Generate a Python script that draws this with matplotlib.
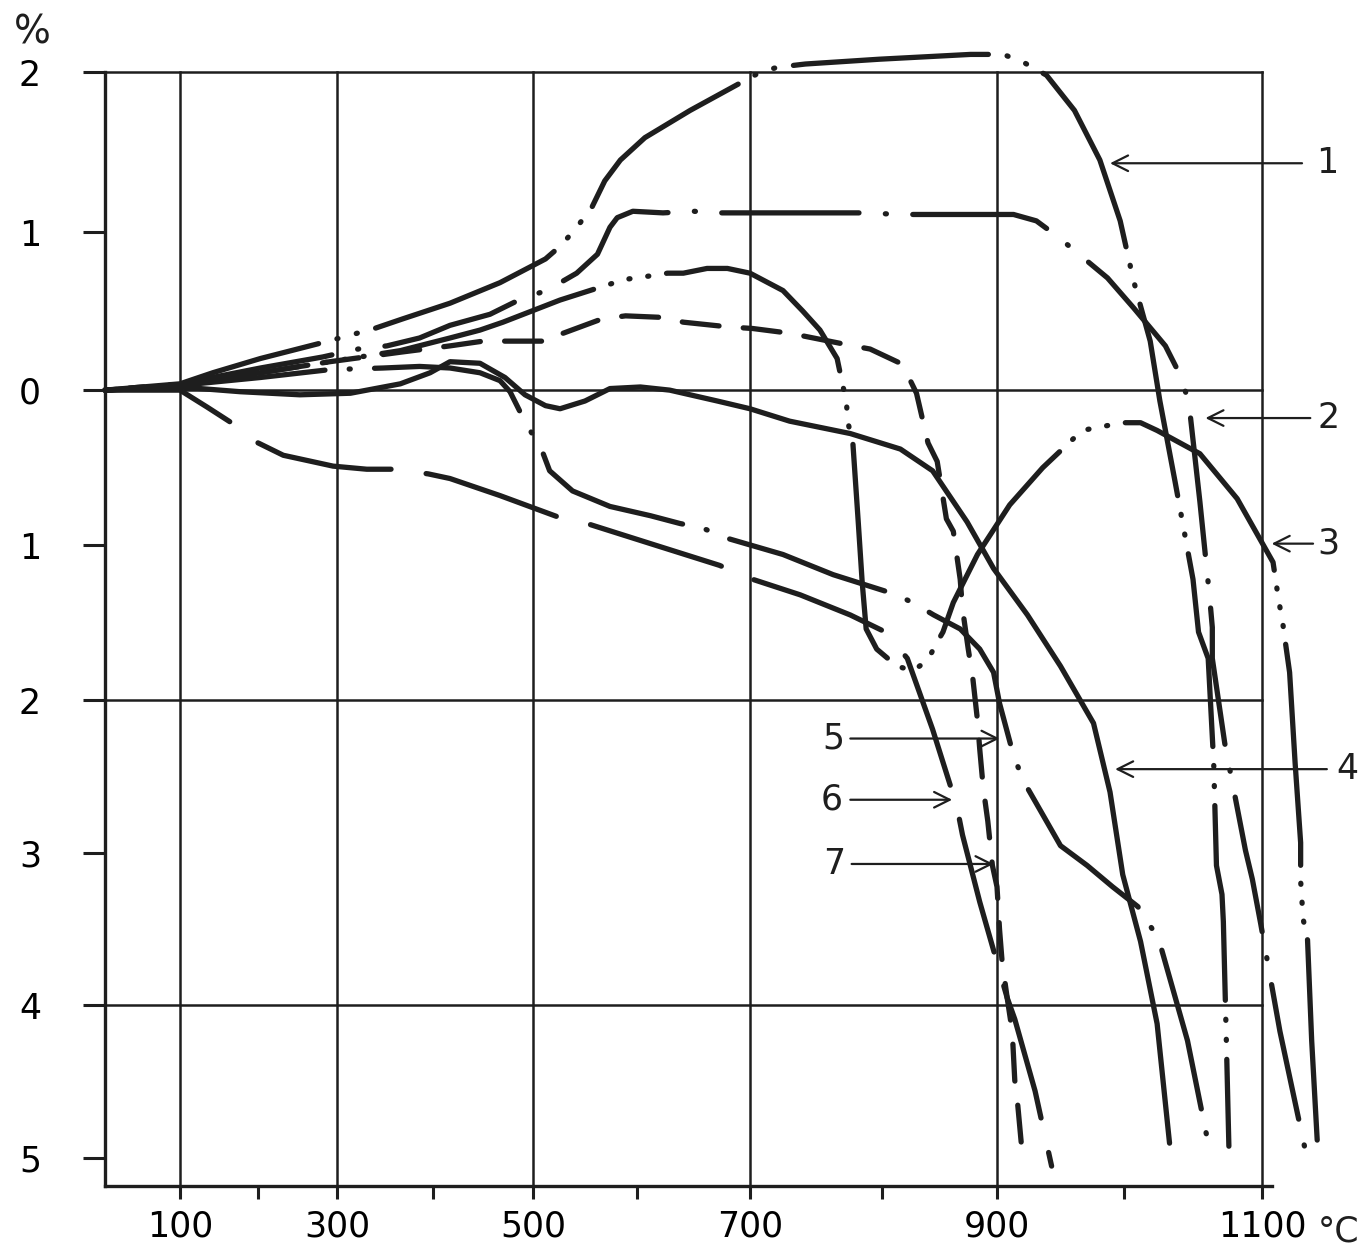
import numpy as np
import matplotlib
matplotlib.use('Agg')
import matplotlib.pyplot as plt

INK = '#1e1e1e'
LW = 3.8

# the drawn temperature / expansion axes are not evenly spaced: scale
TEMP_TICKS = [-1000, 0, 100, 200, 300, 400, 500, 600, 700, 800, 900, 1000, 1100, 2000]
TEMP_PX = [-645, 105, 180, 258, 337, 433, 533, 637, 750, 882, 997, 1124, 1262, 2504]
EXP_TICKS = [-10, -5, -4, -3, -2, -1, 0, 1, 2, 5]
EXP_PX = [1923, 1158, 1005, 853, 700, 545, 390, 232, 72, -408]

# curves: temperature (deg C) and length change (%)
t1 = [0, 100, 142, 203, 289, 339, 368, 417, 467, 512, 526, 541, 557, 569, 584, 607, 647, 691, 708, 721,
      742, 798, 877, 905, 921, 939, 961, 981, 997, 1007, 1019, 1026, 1037, 1050, 1054, 1061, 1065, 1067,
      1071, 1072, 1074, 1076]
e1 = [0, 0.04, 0.11, 0.20, 0.31, 0.39, 0.45, 0.55, 0.68, 0.83, 0.91, 1.02, 1.16, 1.32, 1.45, 1.59, 1.76,
      1.93, 2.00, 2.03, 2.05, 2.08, 2.11, 2.11, 2.06, 1.98, 1.76, 1.45, 1.07, 0.69, 0.31, -0.07, -0.59,
      -1.22, -1.56, -1.73, -2.41, -3.08, -3.27, -3.45, -4.17, -4.92]

t2 = [0, 100, 203, 282, 322, 352, 386, 417, 457, 489, 513, 542, 562, 574, 581, 596, 623, 650, 675, 764,
      787, 816, 913, 931, 948, 987, 1007, 1030, 1041, 1047, 1055, 1062, 1064, 1064, 1073, 1088, 1093,
      1099, 1113, 1131]
e2 = [0, 0.04, 0.14, 0.21, 0.26, 0.28, 0.33, 0.41, 0.48, 0.58, 0.63, 0.74, 0.86, 1.03, 1.09, 1.13, 1.12,
      1.13, 1.12, 1.12, 1.12, 1.11, 1.11, 1.07, 0.97, 0.71, 0.52, 0.28, 0.09, -0.08, -0.72, -1.33, -1.53,
      -1.73, -2.28, -2.98, -3.17, -3.46, -4.17, -4.93]

t3 = [0, 100, 203, 291, 366, 417, 447, 470, 526, 588, 609, 627, 641, 662, 680, 700, 725, 740, 753, 766,
      770, 773, 774, 778, 782, 785, 788, 796, 813, 827, 840, 846, 853, 862, 883, 910, 936, 967, 986, 999,
      1012, 1024, 1055, 1082, 1108, 1112, 1115, 1117, 1120, 1124, 1128, 1128, 1129, 1130, 1133, 1136, 1140]
e3 = [0, 0.03, 0.11, 0.18, 0.25, 0.33, 0.38, 0.43, 0.57, 0.70, 0.72, 0.74, 0.74, 0.77, 0.77, 0.74, 0.63,
      0.50, 0.38, 0.20, 0.04, -0.07, -0.20, -0.35, -0.85, -1.24, -1.54, -1.67, -1.78, -1.81, -1.74, -1.65,
      -1.56, -1.37, -1.06, -0.74, -0.50, -0.26, -0.23, -0.21, -0.21, -0.26, -0.41, -0.70, -1.11, -1.35,
      -1.50, -1.63, -1.82, -2.41, -2.93, -3.18, -3.32, -3.44, -3.57, -4.23, -4.88]

t4 = [0, 100, 177, 253, 314, 366, 397, 417, 447, 472, 492, 512, 526, 550, 574, 603, 629, 671, 700, 730,
      776, 816, 844, 874, 897, 924, 950, 976, 989, 999, 1012, 1024, 1033]
e4 = [0, 0.02, -0.01, -0.03, -0.02, 0.04, 0.11, 0.18, 0.17, 0.08, -0.03, -0.10, -0.12, -0.07, 0.01, 0.02,
      0.00, -0.07, -0.12, -0.20, -0.28, -0.38, -0.52, -0.85, -1.15, -1.45, -1.78, -2.15, -2.60, -3.14,
      -3.58, -4.12, -4.90]

t5 = [0, 100, 203, 291, 348, 386, 417, 447, 467, 477, 484, 494, 507, 516, 538, 574, 612, 638, 658, 682,
      725, 763, 813, 829, 845, 868, 885, 897, 902, 913, 921, 930, 950, 971, 991, 1010, 1017, 1025, 1046, 1061]
e5 = [0, 0.03, 0.08, 0.13, 0.14, 0.15, 0.14, 0.11, 0.06, -0.01, -0.10, -0.23, -0.36, -0.52, -0.65, -0.75,
      -0.81, -0.86, -0.89, -0.96, -1.06, -1.19, -1.32, -1.38, -1.45, -1.54, -1.67, -1.82, -2.02, -2.36,
      -2.53, -2.66, -2.95, -3.08, -3.22, -3.35, -3.45, -3.56, -4.23, -4.90]

t6 = [0, 100, 135, 172, 200, 232, 295, 331, 358, 395, 417, 467, 529, 547, 612, 673, 702, 738, 776, 803,
      822, 844, 865, 870, 885, 908, 914, 930, 943]
e6 = [0, 0, -0.11, -0.23, -0.34, -0.42, -0.49, -0.51, -0.51, -0.54, -0.57, -0.68, -0.83, -0.85, -0.99,
      -1.13, -1.22, -1.32, -1.45, -1.56, -1.73, -2.19, -2.69, -2.88, -3.32, -3.95, -4.09, -4.56, -5.05]

t7 = [0, 100, 203, 291, 366, 417, 450, 474, 519, 529, 566, 589, 623, 641, 681, 702, 730, 748, 778, 791,
      816, 820, 830, 840, 848, 856, 862, 868, 870, 875, 879, 883, 885, 888, 892, 896, 900, 902, 904, 908,
      912, 914, 916, 920]
e7 = [0, 0.03, 0.11, 0.18, 0.24, 0.28, 0.31, 0.31, 0.31, 0.36, 0.45, 0.47, 0.46, 0.43, 0.40, 0.39, 0.36,
      0.33, 0.28, 0.26, 0.17, 0.13, -0.02, -0.34, -0.46, -0.83, -0.91, -1.22, -1.41, -1.67, -1.86, -2.13,
      -2.32, -2.57, -2.79, -3.08, -3.22, -3.50, -3.71, -3.95, -4.17, -4.49, -4.62, -4.98]

x_ticks = [100, 200, 300, 400, 500, 600, 700, 800, 900, 1000, 1100]
x_labels = ['100', '', '300', '', '500', '', '700', '', '900', '', '1100']
y_ticks = [2, 1, 0, -1, -2, -3, -4, -5]
y_labels = ['2', '1', '0', '1', '2', '3', '4', '5']


def fwd_x(t):
    return np.interp(t, TEMP_TICKS, TEMP_PX)

def inv_x(p):
    return np.interp(p, TEMP_PX, TEMP_TICKS)

def fwd_y(v):
    return -np.interp(v, EXP_TICKS, EXP_PX)

def inv_y(q):
    return np.interp(q, -np.array(EXP_PX, dtype=float), EXP_TICKS)


plt.rcParams['font.family'] = ['DejaVu Sans']
fig = plt.figure(figsize=(13.64, 12.52), dpi=100)
ax = fig.add_axes([105 / 1364, 1 - 1186 / 1252, 1226 / 1364, 1154 / 1252])
ax.set_xscale('function', functions=(fwd_x, inv_x))
ax.set_yscale('function', functions=(fwd_y, inv_y))
ax.set_xlim(0, 1150)
ax.set_ylim(-5.18, 2.25)


def dash_offset(t, e, t_start, seq):
    # shift the dash pattern so that a dash begins at t_start, like on the drawing
    pts = ax.transData.transform(np.column_stack([t, e]))
    arc = np.concatenate([[0], np.cumsum(np.hypot(*np.diff(pts, axis=0).T))])
    s = np.interp(t_start, t, arc) * 72.0 / fig.dpi / LW
    return (-s) % sum(seq)


# frame and grid, drawn like the original sheet
for t in [100, 300, 500, 700, 900, 1100]:
    ax.plot([t, t], [-5.18, 2], color=INK, lw=1.8, zorder=1)
for v in [2, 0, -2, -4]:
    ax.plot([0, 1100], [v, v], color=INK, lw=1.8, zorder=1)

for side in ['top', 'right']:
    ax.spines[side].set_visible(False)
ax.spines['left'].set_bounds(-5.18, 2)
ax.spines['bottom'].set_bounds(0, 1107)
for side in ['left', 'bottom']:
    ax.spines[side].set_linewidth(2.4)
    ax.spines[side].set_color(INK)

ax.set_xticks(x_ticks)
ax.set_xticklabels(x_labels)
ax.set_yticks(y_ticks)
ax.set_yticklabels(y_labels)
ax.minorticks_off()
ax.tick_params(axis='x', direction='out', length=9, width=2.2, pad=8, labelsize=25, color=INK)
ax.tick_params(axis='y', direction='out', length=16, width=2.2, pad=30, labelsize=25, color=INK)

# (t, e, dash sequence in line widths, temperature where a dash starts)
curves = [
    (t1, e1, (37, 3.6, 0.2, 3.6, 0.2, 3.6), 557),
    (t2, e2, (26, 5.0, 0.2, 5.0), 675),
    (t3, e3, (42, 3.4, 0.2, 3.4, 0.2, 3.4, 0.2, 3.4), 778),
    (t4, e4, None, None),
    (t5, e5, (31, 4.6, 0.2, 4.6), 682),
    (t6, e6, (26, 6.7), 200),
    (t7, e7, (7, 4.6), 529),
]
for t, e, dash, t_start in curves:
    line, = ax.plot(t, e, color=INK, lw=LW, solid_capstyle='round', dash_capstyle='round',
                    solid_joinstyle='round', dash_joinstyle='round', zorder=3, clip_on=False)
    if dash is not None:
        line.set_linestyle((dash_offset(t, e, t_start, dash), dash))

# numbered call-outs
callouts = [
    ('1', 1147, 1.43, 1129, 989),
    ('2', 1148, -0.18, 1135, 1059),
    ('3', 1148, -0.99, 1137, 1107),
    ('4', 1162, -2.45, 1147, 993),
    ('5', 763, -2.25, 776, 902),
    ('6', 762, -2.65, 776, 861),
    ('7', 764, -3.07, 777, 897),
]
for txt, lt, lv, tail, tip in callouts:
    ax.annotate('', xy=(tip, lv), xytext=(tail, lv),
                arrowprops=dict(arrowstyle='->', lw=1.6, color=INK, mutation_scale=28,
                                shrinkA=0, shrinkB=0),
                annotation_clip=False)
    ax.text(lt, lv, txt, fontsize=25, ha='center', va='center', color=INK, clip_on=False)

fig.text(32 / 1364, 1 - 32 / 1252, '%', fontsize=28, ha='center', va='center', color=INK)
fig.text(1339 / 1364, 1 - 1232 / 1252, '°C', fontsize=25, ha='center', va='center', color=INK)

fig.savefig('out.png', dpi=100, facecolor='white')
